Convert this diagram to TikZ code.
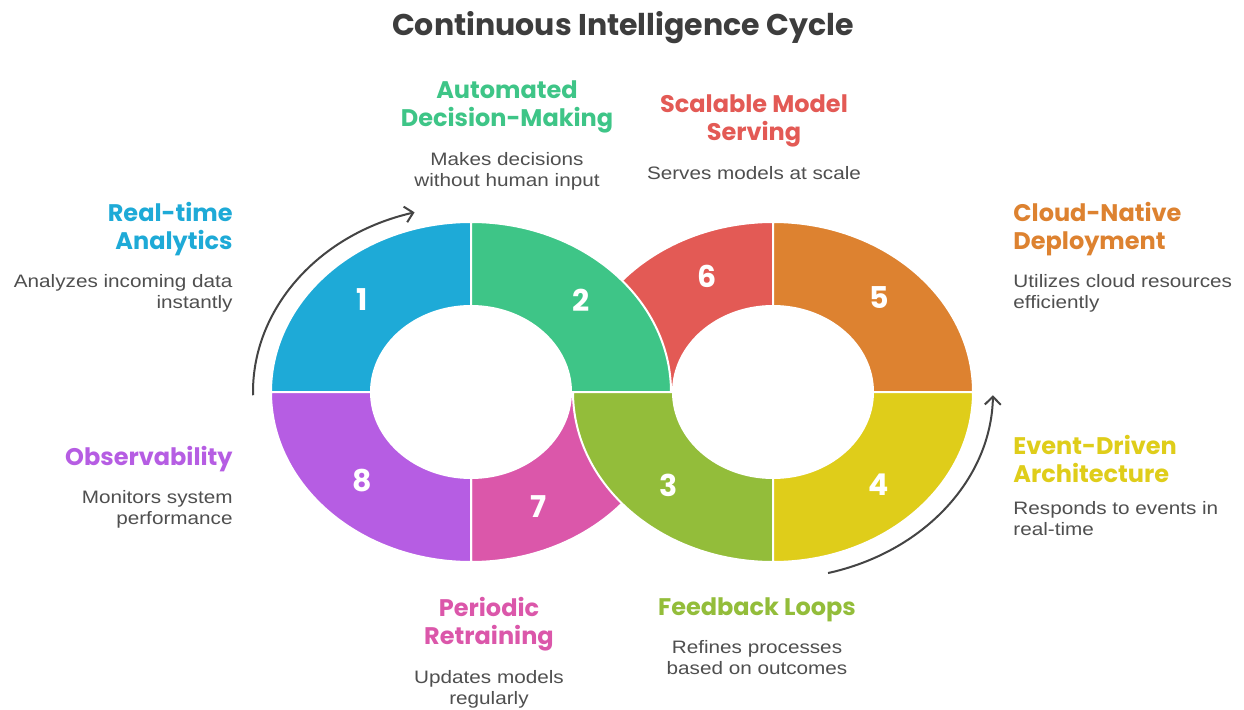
\documentclass[tikz,border=0pt]{standalone}
\usepackage{fontspec}
\setmainfont{Liberation Sans}
\newfontfamily\headfamily{Poppins}
\usepackage{tikz}
\usetikzlibrary{positioning,calc,arrows.meta}
\definecolor{cBlue}{HTML}{1EAAD7}
\definecolor{cGreen}{HTML}{3EC587}
\definecolor{cRed}{HTML}{E35A55}
\definecolor{cOrange}{HTML}{DD8230}
\definecolor{cOlive}{HTML}{93BD3A}
\definecolor{cYellow}{HTML}{DFCD1A}
\definecolor{cPurple}{HTML}{B65DE3}
\definecolor{cPink}{HTML}{DB57AA}
\definecolor{cText}{HTML}{4F4F4F}
\definecolor{cTitle}{HTML}{3D3D3D}
\definecolor{cArrow}{HTML}{444444}
\newcommand{\titlefont}{\headfamily\bfseries\fontsize{15}{17}\selectfont}
\newcommand{\headfont}{\headfamily\bfseries\fontsize{12}{14}\selectfont}
\newcommand{\bodyfont}{\fontsize{9}{10.5}\selectfont}
\newcommand{\numfont}{\headfamily\bfseries\fontsize{15}{17}\selectfont}
\begin{document}
\begin{tikzpicture}[x=0.5pt, y=0.5pt,
  seg/.style={draw=white, line width=1pt},
  num/.style={font=\numfont, text=white},
  head/.style={font=\headfont, inner sep=0pt},
  body/.style={font=\bodyfont, text=cText, inner sep=0pt, xscale=1.15},
  cyc/.style={draw=cArrow, line width=1pt, -{Straight Barb[length=4pt,width=8pt]}}]
\useasboundingbox[fill=white] (0,0) rectangle (1244,709);
\coordinate (L) at (471,317);
\coordinate (R) at (773,317);

% the two rings, the covered pieces first
\filldraw[seg, fill=cRed] ($(R)+(90:200 and 170)$) arc[start angle=90, end angle=180, x radius=200, y radius=170] -- ($(R)+(180:100 and 86)$) arc[start angle=180, end angle=90, x radius=100, y radius=86] -- cycle;
\filldraw[seg, fill=cPink] ($(L)+(270:200 and 170)$) arc[start angle=270, end angle=360, x radius=200, y radius=170] -- ($(L)+(0:100 and 86)$) arc[start angle=360, end angle=270, x radius=100, y radius=86] -- cycle;
\filldraw[seg, fill=cBlue] ($(L)+(90:200 and 170)$) arc[start angle=90, end angle=180, x radius=200, y radius=170] -- ($(L)+(180:100 and 86)$) arc[start angle=180, end angle=90, x radius=100, y radius=86] -- cycle;
\filldraw[seg, fill=cGreen] ($(L)+(0:200 and 170)$) arc[start angle=0, end angle=90, x radius=200, y radius=170] -- ($(L)+(90:100 and 86)$) arc[start angle=90, end angle=0, x radius=100, y radius=86] -- cycle;
\filldraw[seg, fill=cPurple] ($(L)+(180:200 and 170)$) arc[start angle=180, end angle=270, x radius=200, y radius=170] -- ($(L)+(270:100 and 86)$) arc[start angle=270, end angle=180, x radius=100, y radius=86] -- cycle;
\filldraw[seg, fill=cOrange] ($(R)+(0:200 and 170)$) arc[start angle=0, end angle=90, x radius=200, y radius=170] -- ($(R)+(90:100 and 86)$) arc[start angle=90, end angle=0, x radius=100, y radius=86] -- cycle;
\filldraw[seg, fill=cOlive] ($(R)+(180:200 and 170)$) arc[start angle=180, end angle=270, x radius=200, y radius=170] -- ($(R)+(270:100 and 86)$) arc[start angle=270, end angle=180, x radius=100, y radius=86] -- cycle;
\filldraw[seg, fill=cYellow] ($(R)+(270:200 and 170)$) arc[start angle=270, end angle=360, x radius=200, y radius=170] -- ($(R)+(0:100 and 86)$) arc[start angle=360, end angle=270, x radius=100, y radius=86] -- cycle;

\node[num] (n1) at (362,409) {1};
\node[num] (n2) at (581,409) {2};
\node[num] (n3) at (669,224) {3};
\node[num] (n4) at (879,224) {4};
\node[num] (n5) at (879,411) {5};
\node[num] (n6) at (707,433) {6};
\node[num] (n7) at (539,202) {7};
\node[num] (n8) at (362,228) {8};

% cycle arrows
\draw[cyc] ($(L)+(181:218 and 186)$) arc[start angle=181, end angle=105, x radius=218, y radius=186];
\draw[cyc] ($(R)+(-75.5:220 and 187)$) arc[start angle=-75.5, end angle=-1, x radius=220, y radius=187];

\node[font=\titlefont, text=cTitle] (title) at (623,681) {Continuous Intelligence Cycle};

\node[head, text=cBlue, anchor=east, align=right] (rtaHead) at (233,480) {Real-time\\Analytics};
\node[body, align=right, below left=9pt and 0pt of rtaHead.south east] (rtaText) {Analyzes incoming data\\instantly};
\node[head, text=cGreen, align=center] (admHead) at (507,602) {Automated\\Decision-Making};
\node[body, align=center, below=9pt of admHead] (admText) {Makes decisions\\without human input};
\node[head, text=cRed, align=center] (smsHead) at (754,588) {Scalable Model\\Serving};
\node[body, align=center, below=9pt of smsHead] (smsText) {Serves models at scale};
\node[head, text=cOrange, anchor=west, align=left] (cndHead) at (1013,480) {Cloud-Native\\Deployment};
\node[body, align=left, below right=9pt and 0pt of cndHead.south west] (cndText) {Utilizes cloud resources\\efficiently};
\node[head, text=cYellow, anchor=west, align=left] (edaHead) at (1013,250) {Event-Driven\\Architecture};
\node[body, align=left, below right=9pt and 0pt of edaHead.south west] (edaText) {Responds to events in\\real-time};
\node[head, text=cOlive, align=center] (flHead) at (757,99) {Feedback Loops};
\node[body, align=center, below=9pt of flHead] (flText) {Refines processes\\based on outcomes};
\node[head, text=cPink, align=center] (prHead) at (489,84.5) {Periodic\\Retraining};
\node[body, align=center, below=9pt of prHead] (prText) {Updates models\\regularly};
\node[head, text=cPurple, anchor=east, align=right] (obsHead) at (233,250) {Observability};
\node[body, align=right, below left=9pt and 0pt of obsHead.south east] (obsText) {Monitors system\\performance};
\end{tikzpicture}
\end{document}
